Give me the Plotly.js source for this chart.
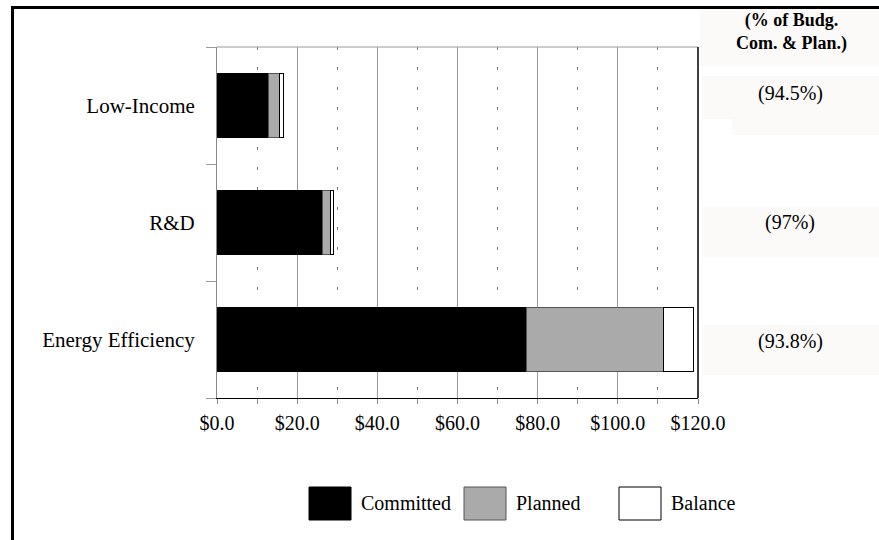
<!DOCTYPE html>
<html>
<head>
<meta charset="utf-8">
<script src="https://cdn.plot.ly/plotly-3.0.1.min.js"></script>
<style>html,body{margin:0;padding:0;background:#fff;}#chart{width:879px;height:540px;}</style>
</head>
<body>
<div id="chart"></div>
<script>
// ---- data ----
var programs = ["Low-Income", "R&D", "Energy Efficiency"];
var committed = [12.9, 26.3, 77.3];
var planned = [2.7, 1.9, 34.2];
var balance = [0.9, 0.9, 7.5];
var pctLabels = ["(94.5%)", "(97%)", "(93.8%)"];
var seriesNames = ["Committed", "Planned", "Balance"];
var headerText = "(% of Budg.<br>Com. & Plan.)";
var xTickVals = [0, 20, 40, 60, 80, 100, 120];
var xTickText = xTickVals.map(function (v) { return "$" + v.toFixed(1); });

// ---- layout helpers (pixel -> paper) ----
var W = 879, H = 540, ML = 217, MR = 181, MT = 47, MB = 142;
var PW = W - ML - MR, PH = H - MT - MB;
function px(x) { return (x - ML) / PW; }
function py(y) { return (H - MB - y) / PH; }

var serif = "Liberation Serif, Times New Roman, Times, serif";
var fills = ["#000000", "#aaaaaa", "#ffffff"];
var lines = ["#000000", "#555555", "#000000"];
var vals = [committed, planned, balance];

var traces = vals.map(function (v, i) {
  return {
    type: "bar", orientation: "h", name: seriesNames[i],
    x: v, y: programs,
    marker: { color: fills[i], line: { color: lines[i], width: 1 } },
    hoverinfo: "x+y+name", showlegend: false
  };
});

var shapes = [];
var annotations = [];
// outer frame (cut off at right/bottom)
shapes.push({ type: "rect", xref: "paper", yref: "paper", x0: px(12.5), x1: px(900), y0: py(580), y1: py(7.5),
  line: { color: "#000", width: 3 }, fillcolor: "rgba(0,0,0,0)", layer: "above" });
// top plot border (gray) and right border (black)
shapes.push({ type: "line", xref: "paper", yref: "paper", x0: 0, x1: 1, y0: 1, y1: 1, line: { color: "#999", width: 1 } });
shapes.push({ type: "line", xref: "paper", yref: "paper", x0: 1, x1: 1, y0: 0, y1: 1, line: { color: "#000", width: 1.5 }, layer: "above" });
// right column backgrounds
shapes.push({ type: "rect", xref: "paper", yref: "paper", x0: px(700), x1: px(880), y0: py(66), y1: py(9),
  line: { width: 0 }, fillcolor: "#fbfaf9", layer: "below" });
var boxes = [[76, 119], [207, 257], [325, 375]];
boxes.forEach(function (b) {
  shapes.push({ type: "rect", xref: "paper", yref: "paper", x0: px(702), x1: px(880), y0: py(b[1]), y1: py(b[0]),
    line: { width: 0 }, fillcolor: "#fbfaf9", layer: "below" });
});
shapes.push({ type: "rect", xref: "paper", yref: "paper", x0: px(732), x1: px(880), y0: py(135), y1: py(119),
  line: { width: 0 }, fillcolor: "#fbfaf9", layer: "below" });

annotations.push({ xref: "paper", yref: "paper", x: px(791), y: py(32), text: "<b>" + headerText + "</b>",
  showarrow: false, font: { family: serif, size: 18, color: "#000" }, xanchor: "center", yanchor: "middle" });
var pctY = [93, 223, 341];
pctLabels.forEach(function (t, i) {
  annotations.push({ xref: "paper", yref: "paper", x: px(790), y: py(pctY[i]), text: t, showarrow: false,
    font: { family: serif, size: 20, color: "#000" }, xanchor: "center", yanchor: "middle" });
});

// custom legend
var legBoxX = [309, 464, 619];
seriesNames.forEach(function (n, i) {
  shapes.push({ type: "rect", xref: "paper", yref: "paper", x0: px(legBoxX[i]), x1: px(legBoxX[i] + 42),
    y0: py(520), y1: py(487), fillcolor: fills[i], line: { color: lines[i], width: 1 } });
  annotations.push({ xref: "paper", yref: "paper", x: px(legBoxX[i] + 50), y: py(503), text: n, showarrow: false,
    font: { family: serif, size: 20, color: "#000" }, xanchor: "left", yanchor: "middle" });
});

var layout = {
  width: W, height: H,
  margin: { l: ML, r: MR, t: MT, b: MB, pad: 0 },
  paper_bgcolor: "#fff", plot_bgcolor: "#fff",
  barmode: "stack", bargap: 0.45,
  showlegend: false,
  font: { family: serif, size: 20, color: "#000" },
  xaxis: {
    range: [0, 120], tickmode: "array", tickvals: xTickVals, ticktext: xTickText,
    showgrid: true, gridcolor: "#999", gridwidth: 1,
    showline: true, linecolor: "#000", linewidth: 1,
    ticks: "outside", ticklen: 5, tickcolor: "#888",
    zeroline: false, fixedrange: true,
    tickfont: { family: serif, size: 20, color: "#000" },
    ticklabelstandoff: 2,
    minor: { dtick: 10, tick0: 0, showgrid: true, gridcolor: "#777", griddash: "3px,17px", gridwidth: 1,
      ticks: "outside", ticklen: 5, tickcolor: "#888" }
  },
  yaxis: {
    type: "category", categoryorder: "array", categoryarray: programs.slice().reverse(),
    showline: true, linecolor: "#888", linewidth: 1,
    ticks: "outside", tickson: "boundaries", ticklen: 10, tickcolor: "#999",
    showgrid: false, zeroline: false, fixedrange: true,
    tickfont: { family: serif, size: 21, color: "#000" },
    ticklabelstandoff: 17
  },
  shapes: shapes,
  annotations: annotations
};

Plotly.newPlot("chart", traces, layout, { displayModeBar: false, staticPlot: true });
</script>
</body>
</html>
